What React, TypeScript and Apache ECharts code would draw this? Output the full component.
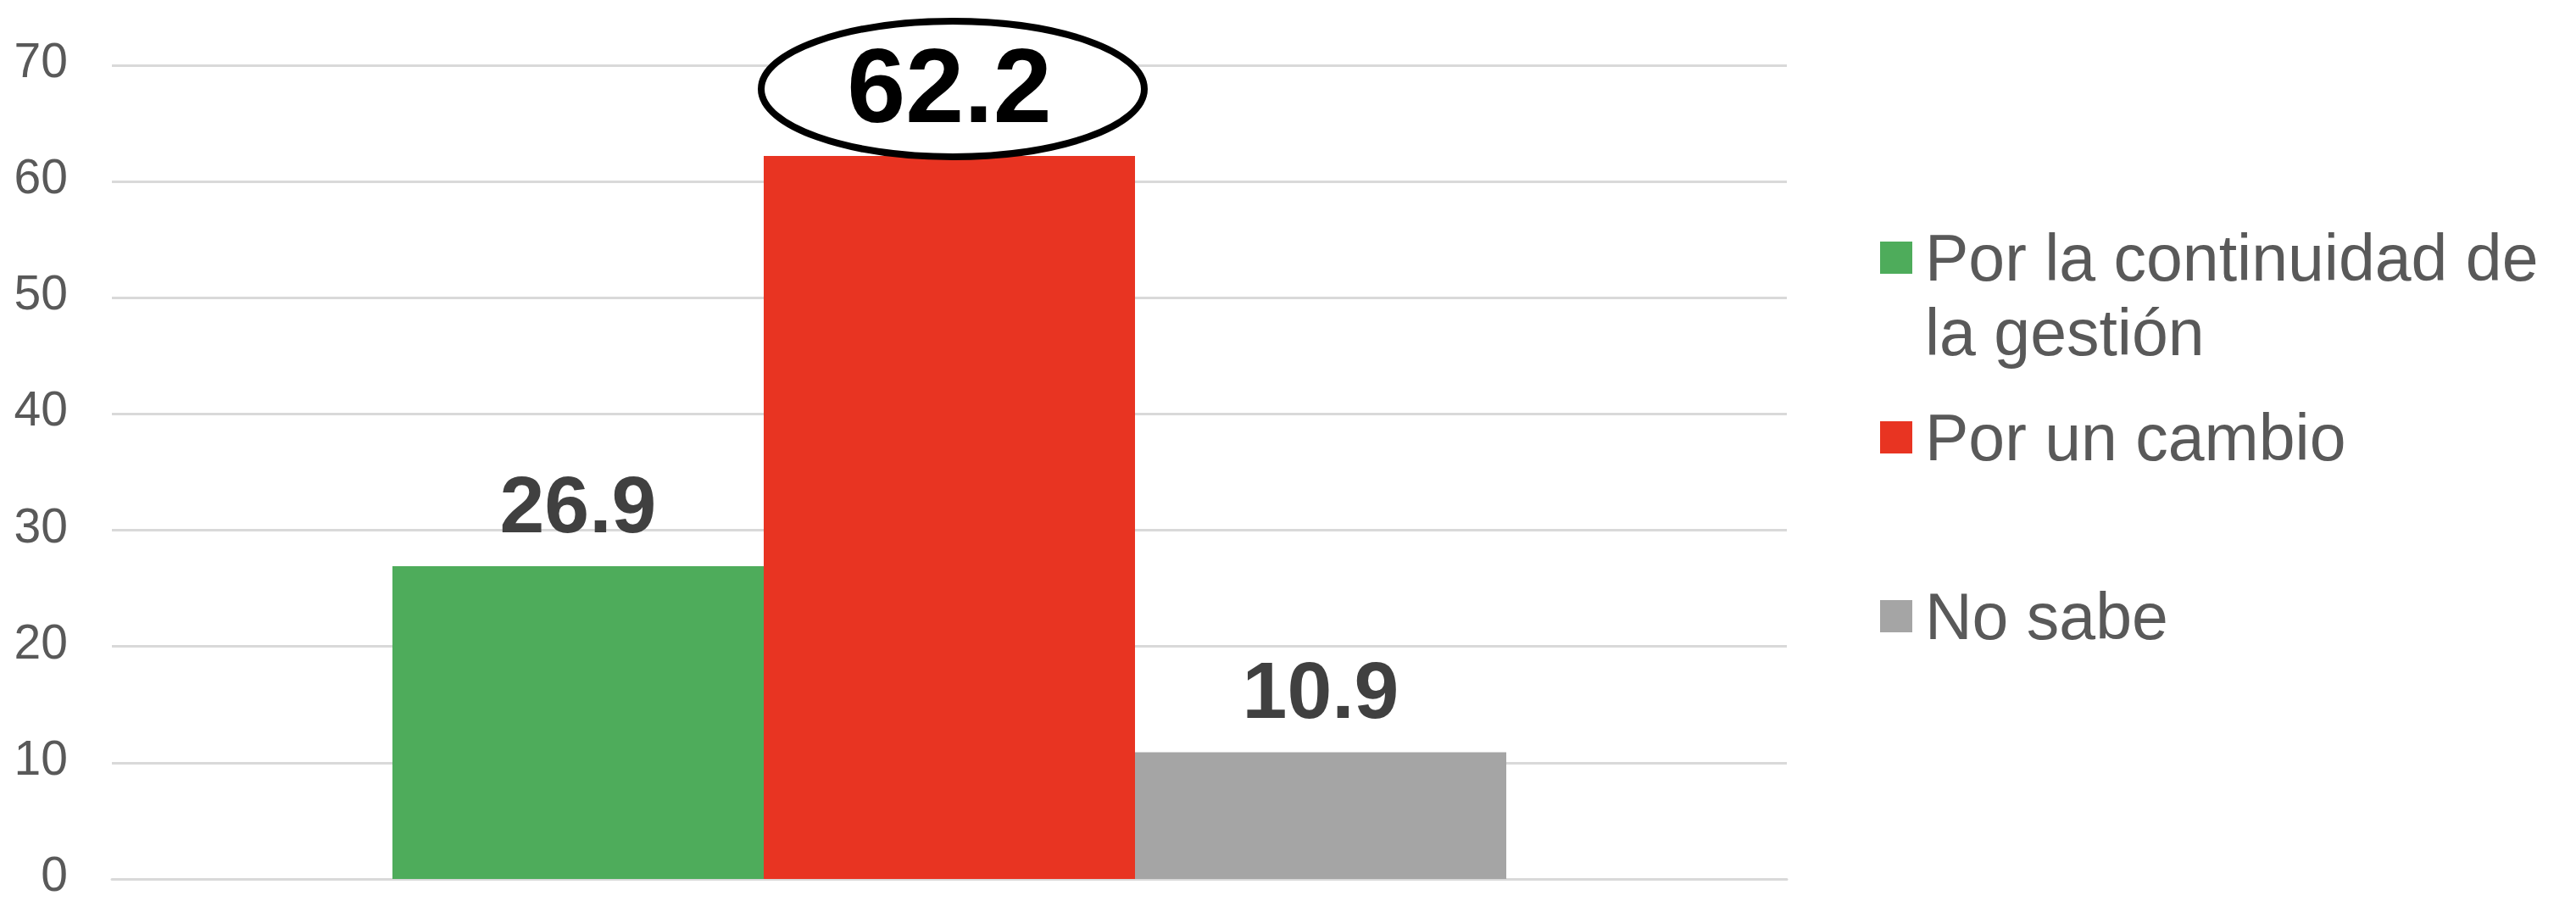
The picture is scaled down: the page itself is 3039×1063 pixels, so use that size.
import React, { useEffect, useRef } from "react";
import * as echarts from "echarts";

const categories: string[] = [""];
const seriesNames: string[] = ["Por la continuidad de\nla gestión", "Por un cambio", "No sabe"];
const seriesValues: number[] = [26.9, 62.2, 10.9];
const seriesColors: string[] = ["#4EAC5B", "#E83422", "#A5A5A5"];
const yTicks: number[] = [0, 10, 20, 30, 40, 50, 60, 70];

const FONT = "'Liberation Sans', Arial, sans-serif";

export default function App() {
  const ref = useRef<HTMLDivElement>(null);

  useEffect(() => {
    document.body.style.margin = "0";
    if (!ref.current) return;
    const chart = echarts.init(ref.current, undefined, { renderer: "svg" });

    const legendTops = [172, 472, 683];

    const option: any = {
      animation: false,
      backgroundColor: "#ffffff",
      textStyle: { fontFamily: FONT },
      grid: { left: 132, right: 3039 - 2108, top: 77, bottom: 26, containLabel: false },
      xAxis: {
        type: "category",
        data: categories,
        axisLine: { show: true, lineStyle: { color: "#D9D9D9", width: 3 } },
        axisTick: { show: false },
        axisLabel: { show: false },
        splitLine: { show: false },
      },
      yAxis: {
        type: "value",
        min: yTicks[0],
        max: yTicks[yTicks.length - 1],
        interval: 10,
        axisLine: { show: false },
        axisTick: { show: false },
        axisLabel: {
          margin: 52,
          padding: [0, 0, 12, 0],
          formatter: "{t|{value}}",
          rich: {
            t: { fontSize: 57, lineHeight: 42, color: "#595959", fontFamily: FONT },
          },
        },
        splitLine: { show: true, lineStyle: { color: "#D9D9D9", width: 3 } },
      },
      legend: seriesNames.map((name, i) => ({
        data: [name],
        left: 2218,
        top: legendTops[i],
        padding: 0,
        itemWidth: 38,
        itemHeight: 38,
        icon: "rect",
        selectedMode: false,
        formatter: i === 0 ? (n: string) => "\n" + n : (n: string) => n,
        textStyle: {
          fontSize: 77,
          color: "#595959",
          fontFamily: FONT,
          lineHeight: 88,
          padding: [0, 0, 0, 10],
        },
      })),
      series: seriesNames.map((name, i) => ({
        name,
        type: "bar",
        barGap: "0%",
        barCategoryGap: "33.5%",
        itemStyle: { color: seriesColors[i] },
        label: {
          show: true,
          position: "top",
          distance: i === 1 ? 21 : 26,
          fontSize: i === 1 ? 124 : 95,
          fontWeight: "bold",
          color: i === 1 ? "#000000" : "#404040",
          fontFamily: FONT,
        },
        data: [seriesValues[i]],
      })),
    };

    chart.setOption(option);

    const [cx, top] = chart.convertToPixel({ xAxisIndex: 0, yAxisIndex: 0 }, [0, seriesValues[1]]) as number[];
    const cy = top - 79;
    const ellipseShape = { cx: cx + 4, cy, rx: 226, ry: 80 };
    chart.setOption({
      graphic: [
        {
          type: "ellipse",
          z: 1,
          shape: ellipseShape,
          style: { fill: "#ffffff", stroke: "none" },
          silent: true,
        },
        {
          type: "ellipse",
          z: 100,
          shape: ellipseShape,
          style: { fill: "none", stroke: "#000000", lineWidth: 8 },
          silent: true,
        },
      ],
    });

    return () => chart.dispose();
  }, []);

  return <div ref={ref} style={{ width: 3039, height: 1063 }} />;
}
